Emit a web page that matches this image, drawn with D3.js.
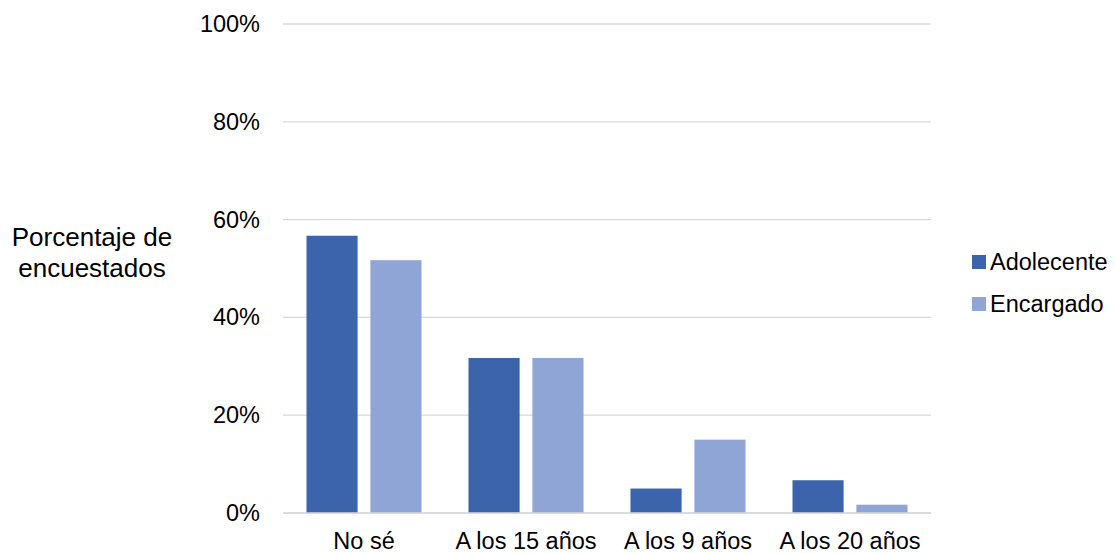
<!DOCTYPE html>
<html><head><meta charset="utf-8">
<script src="https://cdn.jsdelivr.net/npm/d3@7"></script>
<style>body{margin:0;background:#fff}svg{display:block}text{font-family:"Liberation Sans",Arial,sans-serif;fill:#000}</style>
</head><body><svg id="c" width="1115" height="553"></svg>
<script>
const categories = ["No sé", "A los 15 años", "A los 9 años", "A los 20 años"];
const seriesNames = ["Adolecente", "Encargado"];
const adolecente = [56.7, 31.7, 5.0, 6.7];
const encargado = [51.7, 31.7, 15.0, 1.7];
const yTicks = [0, 20, 40, 60, 80, 100];
const colors = ["#3C64AC", "#8FA5D6"];

(function () {
const svg = d3.select("#c");
const pl = 283, pr = 931, pt = 24, pb = 513;
const fs = 23.5;

const x = d3.scaleBand().domain(categories).range([pl, pr]).paddingInner(0.29).paddingOuter(0.145);
const xs = d3.scaleBand().domain(seriesNames).range([0, x.bandwidth()]).paddingInner(0.2);
const y = d3.scaleLinear().domain([0, 100]).range([pb, pt]);

svg.append("g").selectAll("line").data(yTicks).join("line")
  .attr("x1", pl).attr("x2", pr)
  .attr("y1", d => y(d)).attr("y2", d => y(d))
  .attr("stroke", "#D9D9D9").attr("stroke-width", 1.3);

const yAxis = svg.append("g").attr("transform", `translate(${pl},0)`)
  .call(d3.axisLeft(y).tickValues(yTicks).tickFormat(d => d + "%").tickSize(0).tickPadding(23));
yAxis.select(".domain").remove();
yAxis.selectAll("text").style("font-size", fs + "px").attr("font-family", "Liberation Sans, Arial, sans-serif").attr("fill", "#000");

const data = [adolecente, encargado];
seriesNames.forEach((s, si) => {
  svg.append("g").selectAll("rect").data(categories).join("rect")
    .attr("x", c => x(c) + xs(s))
    .attr("width", xs.bandwidth())
    .attr("y", (c, i) => y(data[si][i]))
    .attr("height", (c, i) => y(0) - y(data[si][i]))
    .attr("fill", colors[si]);
});

svg.append("line").attr("x1", pl).attr("x2", pr).attr("y1", y(0)).attr("y2", y(0))
  .attr("stroke", "#D9D9D9").attr("stroke-width", 1.3);

const xAxis = svg.append("g").attr("transform", `translate(0,${pb})`)
  .call(d3.axisBottom(x).tickSize(0).tickPadding(19));
xAxis.select(".domain").remove();
xAxis.selectAll("text").style("font-size", fs + "px").attr("font-family", "Liberation Sans, Arial, sans-serif").attr("fill", "#000");

const yt = svg.append("text").attr("text-anchor", "middle").style("font-size", "26px");
yt.append("tspan").attr("x", 92).attr("y", 246).text("Porcentaje de");
yt.append("tspan").attr("x", 92).attr("y", 277).text("encuestados");

const lg = svg.append("g");
seriesNames.forEach((s, i) => {
  const cy = 262 + i * 42;
  lg.append("rect").attr("x", 972).attr("y", cy - 7).attr("width", 14).attr("height", 14).attr("fill", colors[i]);
  lg.append("text").attr("x", 990).attr("y", cy + 8).style("font-size", fs + "px").text(s);
});
})();
</script></body></html>
